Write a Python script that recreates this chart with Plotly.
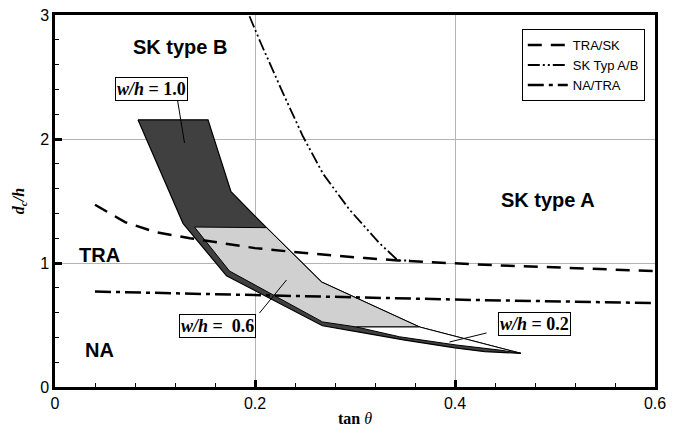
import plotly.graph_objects as go

# boundary curves
tra_sk_x = [0.04, 0.055, 0.07, 0.10, 0.135, 0.2, 0.25, 0.31, 0.343, 0.43, 0.6]
tra_sk_y = [1.47, 1.40, 1.33, 1.25, 1.20, 1.12, 1.08, 1.04, 1.02, 0.985, 0.935]

sk_ab_x = [0.1945, 0.206, 0.228, 0.248, 0.268, 0.2945, 0.3245, 0.343, 0.355]
sk_ab_y = [2.99, 2.77, 2.37, 2.02, 1.72, 1.43, 1.16, 1.02, 1.02]

na_tra_x = [0.04, 0.2, 0.43, 0.6]
na_tra_y = [0.77, 0.742, 0.70, 0.677]

# regions for each w/h
wh10_x = [0.083, 0.153, 0.176, 0.2115, 0.2665, 0.3645, 0.466,
          0.43, 0.40, 0.35, 0.3015, 0.2675, 0.1715, 0.141, 0.128, 0.083]
wh10_y = [2.155, 2.155, 1.575, 1.285, 0.847, 0.484, 0.271,
          0.285, 0.315, 0.378, 0.446, 0.494, 0.897, 1.19, 1.32, 2.155]

wh06_x = [0.1395, 0.2115, 0.2665, 0.3645, 0.3015, 0.2675, 0.1745, 0.1395]
wh06_y = [1.29, 1.285, 0.847, 0.484, 0.484, 0.525, 0.935, 1.29]

wh02_x = [0.3015, 0.3645, 0.466, 0.4445, 0.401, 0.3445, 0.3015]
wh02_y = [0.484, 0.484, 0.271, 0.298, 0.339, 0.405, 0.484]

SANS = "Liberation Sans"
SERIF = "Liberation Serif"

fig = go.Figure()

# filled regions
for xs, ys, fill, edge in [
    (wh10_x, wh10_y, "#404040", dict(color="black", width=1.2)),
    (wh06_x, wh06_y, "#d0d0d0", dict(color="black", width=1)),
    (wh02_x, wh02_y, "white", dict(color="black", width=1)),
]:
    fig.add_trace(go.Scatter(
        x=xs, y=ys, mode="lines", fill="toself", fillcolor=fill,
        line=edge, showlegend=False, hoverinfo="skip"
    ))

# boundary lines
fig.add_trace(go.Scatter(
    x=tra_sk_x, y=tra_sk_y, mode="lines", name="TRA/SK",
    line=dict(color="black", width=2.5, dash="14px,9px")
))
fig.add_trace(go.Scatter(
    x=sk_ab_x, y=sk_ab_y, mode="lines", name="SK Typ A/B",
    line=dict(color="black", width=1.8, dash="12px,3px,2px,3px,2px,3px")
))
fig.add_trace(go.Scatter(
    x=na_tra_x, y=na_tra_y, mode="lines", name="NA/TRA",
    line=dict(color="black", width=2.5, dash="16px,5px,4px,5px")
))

# region names
region_labels = [
    ("SK type B", 0.1245, 2.74),
    ("SK type A", 0.4925, 1.51),
    ("TRA", 0.0445, 1.065),
    ("NA", 0.0445, 0.30),
]
annotations = []
for txt, ax_, ay_ in region_labels:
    annotations.append(dict(
        x=ax_, y=ay_, text=f"<b>{txt}</b>", showarrow=False,
        font=dict(family=SANS, size=20, color="black")
    ))

# w/h labels: (text, tip x, tip y, tail dx, tail dy, box dx, box dy) in px
wh_labels = [
    ("<b><i>w/h</i> = 1.0</b>", 0.1295, 1.968, -7, -43, -33, -54),
    ("<b><i>w/h</i> =&nbsp;&nbsp;0.6</b>", 0.2315, 0.863, -27, 33, -69, 46),
    ("<b><i>w/h</i> = 0.2</b>", 0.3945, 0.363, 37, -9, 85, -18),
]
for txt, tx, ty, tdx, tdy, bdx, bdy in wh_labels:
    # leader line from the point to the label box
    fig.add_shape(
        type="line", xref="x", yref="y",
        xsizemode="pixel", ysizemode="pixel", xanchor=tx, yanchor=ty,
        x0=0, y0=0, x1=tdx, y1=-tdy,
        line=dict(color="black", width=1)
    )
    annotations.append(dict(
        x=tx, y=ty, ax=bdx, ay=bdy, text=txt, showarrow=True,
        arrowcolor="rgba(0,0,0,0)", arrowwidth=0.1,
        font=dict(family=SERIF, size=18, color="black"),
        bgcolor="white", bordercolor="black", borderwidth=1, borderpad=1
    ))

axis_common = dict(
    showline=True, linewidth=2.5, linecolor="black", mirror=True,
    ticks="inside", ticklen=7, tickwidth=2.5, tickcolor="black",
    showgrid=True, gridcolor="#b4b4b4", gridwidth=1, zeroline=False,
    tickfont=dict(family=SANS, size=16, color="black"),
    automargin=False, ticklabeloverflow="allow",
)

# page body has an 8px margin, so the figure is shrunk to fit the window
fig.update_layout(
    width=672, height=428,
    margin=dict(l=47, r=25, t=7, b=49),
    paper_bgcolor="white", plot_bgcolor="white",
    annotations=annotations,
    xaxis=dict(
        range=[0, 0.6], dtick=0.2,
        minor=dict(dtick=0.04, ticks="inside", ticklen=4, tickwidth=1.2,
                   tickcolor="black", showgrid=False),
        title=dict(text="<b>tan</b> <i>θ</i>", standoff=2,
                   font=dict(family=SERIF, size=16, color="black")),
        **axis_common
    ),
    yaxis=dict(
        range=[0, 3], dtick=1,
        minor=dict(dtick=0.2, ticks="inside", ticklen=4, tickwidth=1.2,
                   tickcolor="black", showgrid=False),
        title=dict(text="<b><i>d<sub>c</sub>/h</i></b>", standoff=12,
                   font=dict(family=SERIF, size=16, color="black")),
        **axis_common
    ),
    legend=dict(
        x=0.983, y=0.962, xanchor="right", yanchor="top",
        bordercolor="black", borderwidth=1, bgcolor="white",
        font=dict(family=SANS, size=13, color="black"),
        tracegroupgap=0, itemwidth=40
    ),
)

fig.write_html("out.html")
